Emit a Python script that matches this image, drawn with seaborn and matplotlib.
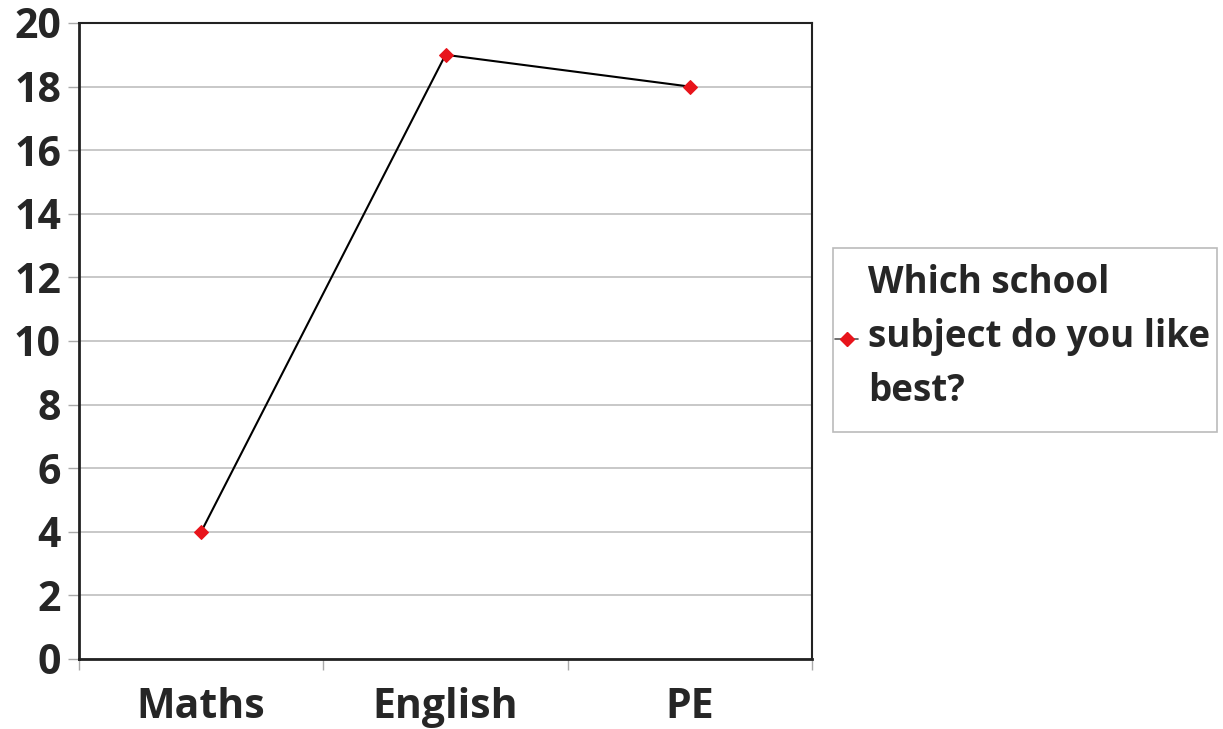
import matplotlib
matplotlib.use("Agg")
import matplotlib.pyplot as plt
import seaborn as sns
import pandas as pd
from matplotlib.lines import Line2D
from matplotlib.patches import Rectangle

subjects = ["Maths", "English", "PE"]
counts = [4, 19, 18]
series_name = "Which school\nsubject do you like\nbest?"
y_ticks = [0, 2, 4, 6, 8, 10, 12, 14, 16, 18, 20]

sns.set_theme(style="white")
plt.rcParams['font.family'] = ['Open Sans', 'DejaVu Sans']
plt.rcParams['font.weight'] = 'bold'

W, H = 1223, 729
fig = plt.figure(figsize=(W/100, H/100), dpi=100)
ax = fig.add_axes([79/W, 1 - 659/H, (812-79)/W, (659-23)/H])

df = pd.DataFrame({"subject": subjects, "count": counts})
sns.lineplot(data=df, x="subject", y="count", ax=ax, color="black", linewidth=1.5,
             marker="D", markersize=7, markerfacecolor="#e8141b", markeredgecolor="#e8141b",
             legend=False)

ax.set_xlim(-0.5, len(subjects) - 0.5)
ax.set_ylim(0, 20)
ax.set_yticks(y_ticks)
ax.set_xticks(range(len(subjects)))
ax.set_xticklabels(subjects)
ax.set_xticks([i - 0.5 for i in range(len(subjects) + 1)], minor=True)
ax.tick_params(axis='x', which='major', length=0, pad=20, labelsize=29.5)
ax.tick_params(axis='x', which='minor', length=8, color="#aaaaaa", width=1, bottom=True)
ax.tick_params(axis='y', which='major', length=8, color="#aaaaaa", width=1, left=True, pad=5, labelsize=29.5)
for lab in ax.get_xticklabels() + ax.get_yticklabels():
    lab.set_fontweight('bold')
ax.set_xlabel("")
ax.set_ylabel("")
ax.yaxis.grid(True, color="#c4c4c4", linewidth=1.3)
ax.xaxis.grid(False)
ax.set_axisbelow(True)
for side in ["left", "bottom"]:
    ax.spines[side].set_color("#222222")
    ax.spines[side].set_linewidth(2)
for side in ["top", "right"]:
    ax.spines[side].set_color("#222222")
    ax.spines[side].set_linewidth(1.5)

# legend frame
fig.patches.append(Rectangle((833/W, 1 - 432/H), (1217-833)/W, (432-248)/H,
                             transform=fig.transFigure, facecolor="white",
                             edgecolor="#bbbbbb", linewidth=1.2, zorder=0))

handle = Line2D([0], [0], color="#555555", linewidth=1.2, marker="D", markersize=7,
                markerfacecolor="#e8141b", markeredgecolor="#e8141b")
leg = fig.legend([handle], [series_name], loc="center left",
                 bbox_to_anchor=(835/W, 1 - 337/H), frameon=False,
                 handlelength=0.63, handletextpad=0.28, borderpad=0, borderaxespad=0,
                 prop={'size': 26.5, 'weight': 'bold'})
for t in leg.get_texts():
    t.set_linespacing(1.56)

fig.savefig("out.png", dpi=100)
